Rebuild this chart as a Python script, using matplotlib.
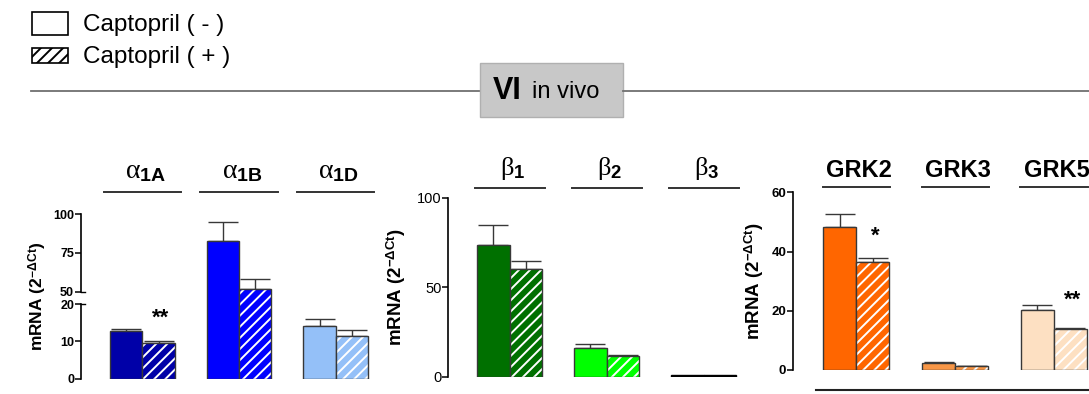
import numpy as np
import matplotlib
matplotlib.use("Agg")
import matplotlib.pyplot as plt
from matplotlib import transforms
from matplotlib.patches import Rectangle
from matplotlib.lines import Line2D

plt.rcParams['font.family'] = ['Liberation Sans', 'DejaVu Sans']
plt.rcParams['mathtext.fontset'] = 'custom'
plt.rcParams['mathtext.rm'] = 'Liberation Sans:bold'
plt.rcParams['mathtext.bf'] = 'Liberation Sans:bold'
plt.rcParams['mathtext.it'] = 'Liberation Serif'
plt.rcParams['hatch.linewidth'] = 1.4

# ---- data -------------------------------------------------------------
alpha_labels = [r'$\alpha_{\mathrm{1A}}$', r'$\alpha_{\mathrm{1B}}$', r'$\alpha_{\mathrm{1D}}$']
alpha_ctrl = [12.7, 82.6, 14.2]
alpha_ctrl_err = [0.7, 12.6, 1.8]
alpha_capt = [9.5, 51.7, 11.6]
alpha_capt_err = [0.5, 6.3, 1.6]
alpha_colors = ['#0000a8', '#0000ff', '#94c0f8']

beta_labels = [r'$\beta_{\mathrm{1}}$', r'$\beta_{\mathrm{2}}$', r'$\beta_{\mathrm{3}}$']
beta_ctrl = [73.4, 16.0, 1.0]
beta_ctrl_err = [11.4, 2.2, 0.0]
beta_capt = [60.1, 11.7, 1.0]
beta_capt_err = [4.8, 0.6, 0.0]
beta_colors = ['#007000', '#00ff00', '#000000']

grk_labels = ['GRK2', 'GRK3', 'GRK5']
grk_ctrl = [48.4, 2.25, 20.2]
grk_ctrl_err = [4.2, 0.35, 1.8]
grk_capt = [36.6, 1.35, 13.75]
grk_capt_err = [1.1, 0.15, 0.35]
grk_colors = ['#ff6600', '#f79646', '#fde0c2']

alpha_ticks = [0, 10, 20, 50, 75, 100]
beta_ticks = [0, 50, 100]
grk_ticks = [0, 20, 40, 60]

# significance marks: (group index, text, gap above the error bar in data units)
alpha_sig = [(0, '**', 6.2)]
grk_sig = [(0, '*', 7.4), (2, '**', 9.3)]

W, H = 1089, 394
fig = plt.figure(figsize=(W / 100, H / 100), dpi=100)


def fx(x):
    return x / W


def fy(y):
    return 1 - y / H


EDGE = '#383838'
BW = 0.335
YLABEL = 'mRNA (2$^{\\mathrm{-\\Delta Ct}}$)'


# broken y scale for the alpha panel: 0-20 linear, compressed gap 20-50, 50-100 linear
def brk_fwd(v):
    v = np.asarray(v, dtype=float)
    return np.where(v <= 20, v,
                    np.where(v <= 50, 20 + (v - 20) * (3.39 / 30),
                             23.39 + (v - 50) * 0.416))


def brk_inv(u):
    u = np.asarray(u, dtype=float)
    return np.where(u <= 20, u,
                    np.where(u <= 23.39, 20 + (u - 20) * (30 / 3.39),
                             50 + (u - 23.39) / 0.416))


def draw_bars(ax, ctrl, ctrl_err, capt, capt_err, colors):
    x = np.arange(len(ctrl))
    xc = x - BW / 2
    xh = x + BW / 2
    edges = [('black' if c == '#000000' else EDGE) for c in colors]
    ax.bar(xc, ctrl, BW, color=colors, edgecolor=edges, linewidth=1.0, zorder=2)
    hatch_col = [('black' if c == '#000000' else 'white') for c in colors]
    ax.bar(xh, capt, BW, color=colors, edgecolor=hatch_col, linewidth=0,
           hatch='///', zorder=2)
    ax.bar(xh, capt, BW, color='none', edgecolor=edges, linewidth=1.0, zorder=3)
    for xs, vals, errs in ((xc, ctrl, ctrl_err), (xh, capt, capt_err)):
        for xi, v, e in zip(xs, vals, errs):
            if e > 0:
                ax.errorbar(xi, v, yerr=[[0], [e]], fmt='none', ecolor=EDGE,
                            elinewidth=1.0, capsize=11, capthick=1.0, zorder=1)


def style_axis(ax, ticks, fsize, weight):
    for s in ('top', 'right', 'bottom'):
        ax.spines[s].set_visible(False)
    ax.spines['left'].set_linewidth(1.2)
    ax.set_xticks([])
    ax.set_yticks(ticks)
    ax.tick_params(axis='y', length=4, width=1.1, pad=1, labelsize=fsize)
    for lab in ax.get_yticklabels():
        lab.set_fontweight(weight)
    ax.patch.set_alpha(0)


def headers(ax, labels, y_line, y_text, half, fsize, weight='normal'):
    tr = transforms.blended_transform_factory(ax.transData, fig.transFigure)
    for i, lab in enumerate(labels):
        ax.add_line(Line2D([i - half, i + half], [fy(y_line)] * 2, transform=tr,
                           color='#333333', linewidth=1.4, clip_on=False))
        ax.text(i + 0.03, fy(y_text), lab, transform=tr, ha='center', va='baseline',
                fontsize=fsize, fontweight=weight, clip_on=False)


def sig_marks(ax, marks, capt, capt_err):
    for gi, txt, gap in marks:
        ax.text(gi + BW / 2 + 0.02, capt[gi] + capt_err[gi] + gap, txt,
                ha='center', va='center', fontsize=16, fontweight='bold')


# ---- alpha panel ------------------------------------------------------
ax1 = fig.add_axes([fx(81), fy(378.7), fx(380) - fx(81), fy(214.3) - fy(378.7)])
ax1.set_yscale('function', functions=(brk_fwd, brk_inv))
draw_bars(ax1, alpha_ctrl, alpha_ctrl_err, alpha_capt, alpha_capt_err, alpha_colors)
ax1.set_xlim(-0.634, 2.458)
ax1.set_ylim(0, 100)
style_axis(ax1, alpha_ticks, 9, 'bold')
ax1.spines['left'].set_visible(False)
tr1 = transforms.blended_transform_factory(ax1.transAxes, ax1.transData)
for lo, hi in ((0, 20), (50, 100)):
    ax1.add_line(Line2D([0, 0], [lo, hi], transform=tr1, color='black',
                        linewidth=1.2, clip_on=False))
for v in (20, 50):
    ax1.add_line(Line2D([0, 0.012], [v, v], transform=tr1, color='black',
                        linewidth=1.0, clip_on=False))
ax1.set_ylabel(YLABEL, fontsize=12.5, fontweight='bold', labelpad=3)
headers(ax1, alpha_labels, 191.7, 178.5, 0.40, 20)
sig_marks(ax1, alpha_sig, alpha_capt, alpha_capt_err)

# ---- beta panel -------------------------------------------------------
ax2 = fig.add_axes([fx(448.3), fy(377), fx(760) - fx(448.3), fy(197.7) - fy(377)])
draw_bars(ax2, beta_ctrl, beta_ctrl_err, beta_capt, beta_capt_err, beta_colors)
ax2.set_xlim(-0.633, 2.58)
ax2.set_ylim(0, 100)
style_axis(ax2, beta_ticks, 10.5, 'normal')
ax2.set_ylabel(YLABEL, fontsize=13.5, fontweight='bold', labelpad=6)
headers(ax2, beta_labels, 188.3, 175.5, 0.36, 19)

# ---- GRK panel --------------------------------------------------------
ax3 = fig.add_axes([fx(793.3), fy(370), 1 - fx(793.3), fy(192.3) - fy(370)])
draw_bars(ax3, grk_ctrl, grk_ctrl_err, grk_capt, grk_capt_err, grk_colors)
ax3.set_xlim(-0.638, 2.355)
ax3.set_ylim(0, 60)
style_axis(ax3, grk_ticks, 9.5, 'bold')
ax3.set_ylabel(YLABEL, fontsize=13.5, fontweight='bold', labelpad=4)
headers(ax3, grk_labels, 187.3, 177.3, 0.34, 17, 'bold')
sig_marks(ax3, grk_sig, grk_capt, grk_capt_err)
fig.add_artist(Line2D([fx(816), 1.0], [fy(390), fy(390)], color='#222222', linewidth=1.5))

# ---- legend -----------------------------------------------------------
fig.add_artist(Rectangle((fx(32), fy(35)), fx(68) - fx(32), fy(12) - fy(35),
                         facecolor='white', edgecolor='black', linewidth=1.2,
                         transform=fig.transFigure))
fig.add_artist(Rectangle((fx(32), fy(63)), fx(68) - fx(32), fy(48) - fy(63),
                         facecolor='white', edgecolor='black', linewidth=1.2,
                         hatch='///', transform=fig.transFigure))
fig.text(fx(83), fy(25), 'Captopril ( - )', fontsize=17.5, va='center', ha='left')
fig.text(fx(83), fy(57), 'Captopril ( + )', fontsize=17.5, va='center', ha='left')

# ---- section divider --------------------------------------------------
fig.add_artist(Line2D([fx(31), fx(479)], [fy(91), fy(91)], color='#707070', linewidth=1.3))
fig.add_artist(Line2D([fx(623), 1.0], [fy(91), fy(91)], color='#707070', linewidth=1.3))
fig.add_artist(Rectangle((fx(479.5), fy(117)), fx(622.5) - fx(479.5), fy(63.5) - fy(117),
                         facecolor='#c8c8c8', edgecolor='#b0b0b0', linewidth=1.0,
                         transform=fig.transFigure))
fig.text(fx(493), fy(91), 'VI', fontsize=22, fontweight='bold', va='center', ha='left')
fig.text(fx(532), fy(92), 'in vivo', fontsize=17, va='center', ha='left')

fig.savefig('out.png', dpi=100)
